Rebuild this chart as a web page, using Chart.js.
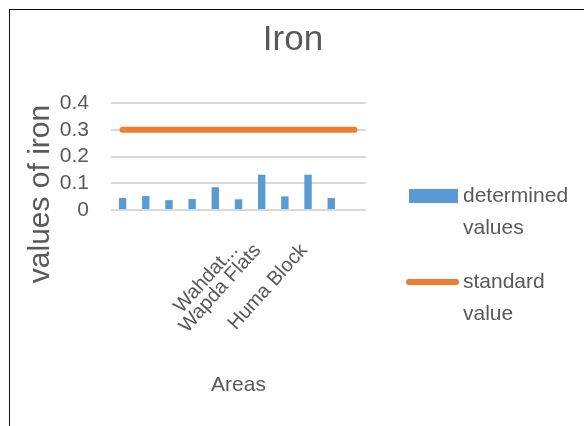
<!DOCTYPE html>
<html>
<head>
<meta charset="utf-8">
<script src="https://cdn.jsdelivr.net/npm/chart.js@4.4.0/dist/chart.umd.min.js"></script>
<style>
  html, body { margin: 0; padding: 0; background: #fff; }
  #wrap { position: relative; width: 584px; height: 426px; overflow: hidden; }
  #iron-chart { position: absolute; left: 0; top: 0; }
  #frame { position: absolute; left: 9px; top: 9px; width: 700px; height: 600px;
           border-left: 1px solid #111; border-top: 1px solid #111; }
</style>
</head>
<body>
<div id="wrap">
  <canvas id="iron-chart" width="584" height="426"></canvas>
  <div id="frame"></div>
</div>
<script>
// Data
const areas = ['', '', '', '', '', 'Wahdat...', 'Wapda Flats', '', 'Huma Block', '', ''];
const determinedValues = [0.045, 0.052, 0.037, 0.041, 0.085, 0.040, 0.132, 0.051, 0.132, 0.045, null];
const standardValues = [0.3, 0.3, 0.3, 0.3, 0.3, 0.3, 0.3, 0.3, 0.3, 0.3, 0.3];
const legendLines = [['determined', 'values'], ['standard', 'value']];
const chartTitle = 'Iron';
const yTitle = 'values of iron';

const textColor = '#595959';
const fontFamily = '"Liberation Sans", Arial, sans-serif';

Chart.defaults.font.family = fontFamily;
Chart.defaults.color = textColor;

// Title across the whole frame, y title and a two-line legend on the right
const sideLegend = {
    id: 'sideLegend',
    afterDraw(chart) {
        const ctx = chart.ctx;
        const sets = chart.data.datasets;
        ctx.save();
        ctx.textBaseline = 'middle';

        // chart title
        ctx.textAlign = 'center';
        ctx.fillStyle = textColor;
        ctx.font = '35px ' + fontFamily;
        ctx.fillText(chartTitle, 293, 40);

        ctx.textAlign = 'left';
        ctx.font = '21px ' + fontFamily;

        // bar swatch
        ctx.fillStyle = sets[0].backgroundColor;
        ctx.fillRect(409, 189, 49, 14);
        ctx.fillStyle = textColor;
        ctx.fillText(legendLines[0][0], 463, 196);
        ctx.fillText(legendLines[0][1], 463, 228);

        // line swatch
        ctx.strokeStyle = sets[1].borderColor;
        ctx.lineWidth = 6;
        ctx.lineCap = 'round';
        ctx.beginPath();
        ctx.moveTo(409, 282);
        ctx.lineTo(456, 282);
        ctx.stroke();
        ctx.fillText(legendLines[1][0], 463, 282);
        ctx.fillText(legendLines[1][1], 463, 314);

        // y axis title
        ctx.translate(41, 194);
        ctx.rotate(-Math.PI / 2);
        ctx.textAlign = 'center';
        ctx.font = '30px ' + fontFamily;
        ctx.fillText(yTitle, 0, 0);
        ctx.restore();
    }
};

const ctx = document.getElementById('iron-chart').getContext('2d');
new Chart(ctx, {
    type: 'bar',
    data: {
        labels: areas,
        datasets: [{
            label: 'determined values',
            data: determinedValues,
            backgroundColor: '#5b9bd5',
            barPercentage: 0.32,
            categoryPercentage: 1
        }, {
            type: 'line',
            label: 'standard value',
            data: standardValues,
            borderColor: '#ed7d31',
            backgroundColor: '#ed7d31',
            borderWidth: 6,
            borderCapStyle: 'round',
            pointRadius: 0,
            tension: 0
        }]
    },
    options: {
        responsive: false,
        animation: false,
        layout: {
            padding: { left: 0, right: 218, top: 103, bottom: 24 }
        },
        plugins: {
            legend: { display: false },
            tooltip: { enabled: false },
            title: { display: false }
        },
        scales: {
            x: {
                grid: { display: false, drawTicks: false },
                border: { display: false },
                ticks: {
                    autoSkip: false,
                    minRotation: 48,
                    maxRotation: 48,
                    padding: 29,
                    labelOffset: -4,
                    color: textColor,
                    font: { size: 20 }
                },
                title: {
                    display: true,
                    text: 'Areas',
                    color: textColor,
                    font: { size: 21 },
                    padding: { top: 4, bottom: 4 }
                },
                afterFit(axis) { axis.height = 192; }
            },
            y: {
                min: 0,
                max: 0.4,
                ticks: {
                    stepSize: 0.1,
                    autoSkip: false,
                    padding: 22,
                    color: textColor,
                    font: { size: 21 }
                },
                grid: { color: '#d9d9d9', lineWidth: 2, drawTicks: false },
                border: { display: false },
                afterFit(axis) { axis.width = 111; }
            }
        }
    },
    plugins: [sideLegend]
});
</script>
</body>
</html>
